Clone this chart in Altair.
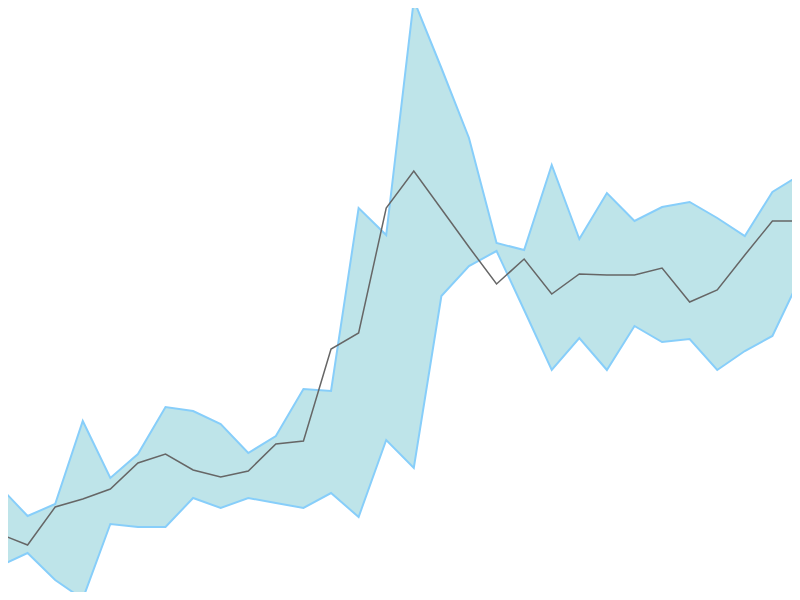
import altair as alt
import pandas as pd

idx = list(range(30))
upper_px = [487, 516, 504, 421, 478, 454, 407, 411, 424, 453, 436, 389, 391, 208, 235,
            0, 68, 138, 243, 250, 165, 239, 193, 221, 207, 202, 218, 236, 192, 175]
lower_px = [566, 553, 580, 599, 524, 527, 527, 498, 508, 498, 503, 508, 493, 517, 440,
            468, 296, 266, 251, 310, 370, 338, 370, 326, 342, 339, 370, 351, 336, 278]
mid_px = [534, 545, 507, 499, 489, 463, 454, 470, 477, 471, 444, 441, 349, 333, 208,
          171, 209, 247, 284, 259, 294, 274, 275, 275, 268, 302, 290, 255, 221, 221]

upper = [600 - v for v in upper_px]
lower = [600 - v for v in lower_px]
mid = [600 - v for v in mid_px]

df = pd.DataFrame({"i": idx, "upper": upper, "lower": lower, "mid": mid})

xs = alt.Scale(domain=[8 * 29 / 800, 792 * 29 / 800], nice=False, zero=False)
ys = alt.Scale(domain=[8, 592], nice=False, zero=False)
x = alt.X("i:Q", scale=xs, axis=None)

band = alt.Chart(df).mark_area(color="#bee4e9", opacity=1, clip=True).encode(
    x=x, y=alt.Y("upper:Q", scale=ys, axis=None), y2="lower:Q"
)
up_line = alt.Chart(df).mark_line(color="#87cefa", strokeWidth=2, clip=True).encode(
    x=x, y=alt.Y("upper:Q", scale=ys, axis=None)
)
lo_line = alt.Chart(df).mark_line(color="#87cefa", strokeWidth=2, clip=True).encode(
    x=x, y=alt.Y("lower:Q", scale=ys, axis=None)
)
mid_line = alt.Chart(df).mark_line(color="#666666", strokeWidth=1.5, clip=True).encode(
    x=x, y=alt.Y("mid:Q", scale=ys, axis=None)
)

chart = alt.layer(band, up_line, lo_line, mid_line).properties(
    width=784, height=584, padding=0, autosize=alt.AutoSizeParams(type="none")
).configure_view(stroke=None)

chart.save("out.html", embed_options={"renderer": "svg", "actions": False})
